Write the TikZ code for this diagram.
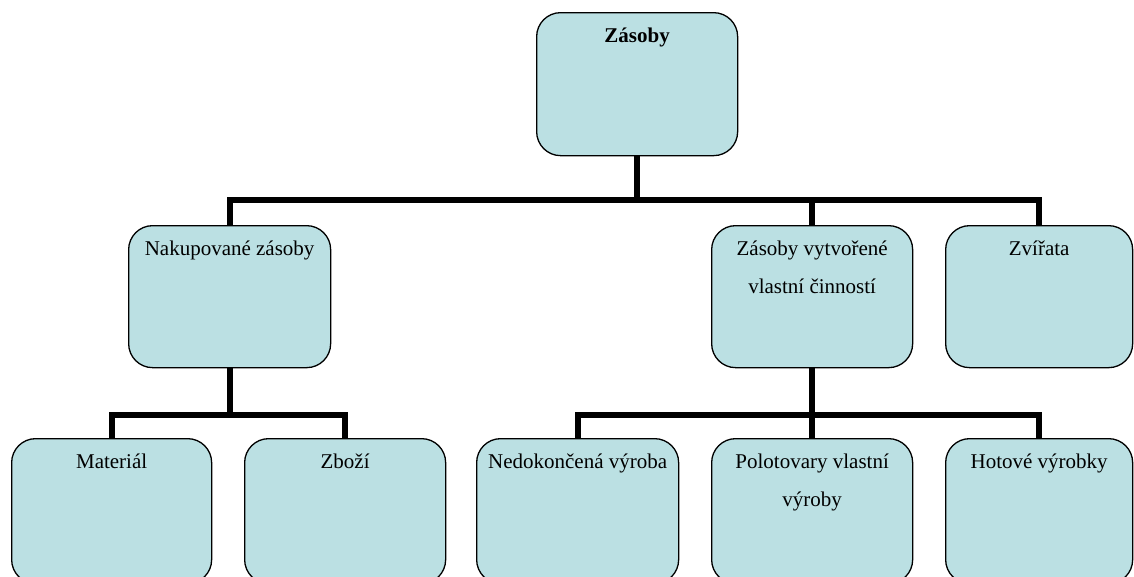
\documentclass[tikz,border=0pt]{standalone}
\usepackage{fontspec}
\setmainfont{Liberation Serif}
\usetikzlibrary{positioning}
\definecolor{boxfill}{HTML}{BBE0E3}
% box text sits at the top of the box
\newcommand{\boxtext}[3]{\parbox[t][#2][t]{#1}{\centering\rule{0pt}{30pt}#3}}

\begin{document}
\begin{tikzpicture}[x=1pt, y=-1pt,
		orgbox/.style={draw, fill=boxfill, line width=1.3pt, rounded corners=24pt, inner sep=0pt, anchor=north west, font=\fontsize{21}{38}\selectfont},
		bus/.style={line width=6pt, line join=miter, black}]
		\useasboundingbox (0,0) rectangle (1134,576);
		\clip (0,0) rectangle (1134,576);
		% boxes
		\node[orgbox] (zasoby) at (536,12) {\boxtext{201pt}{143pt}{\textbf{Zásoby}}};
		\node[orgbox] (nakup) at (128,225) {\boxtext{202pt}{142pt}{Nakupované zásoby}};
		\node[orgbox] (vlastni) at (711,225) {\boxtext{201pt}{142pt}{Zásoby vytvořené\\vlastní činností}};
		\node[orgbox] (zvirata) at (945,225) {\boxtext{187pt}{142pt}{Zvířata}};
		\node[orgbox] (material) at (11,438) {\boxtext{200pt}{145pt}{Materiál}};
		\node[orgbox] (zbozi) at (244,438) {\boxtext{201pt}{145pt}{Zboží}};
		\node[orgbox] (nedok) at (476,438) {\boxtext{202pt}{145pt}{Nedokončená výroba}};
		\node[orgbox] (polot) at (711,438) {\boxtext{201pt}{145pt}{Polotovary vlastní\\výroby}};
		\node[orgbox] (hotove) at (945,438) {\boxtext{187pt}{145pt}{Hotové výrobky}};
		% connectors
		\coordinate (topbus) at (0,200);
		\coordinate (lowbus) at (0,415);
		\draw[bus] (zasoby.south) -- (zasoby.south |- topbus);
		\draw[bus] (nakup.north) |- (zasoby.south |- topbus) -| (zvirata.north);
		\draw[bus] (vlastni.north) -- (vlastni.north |- topbus);
		\draw[bus] (nakup.south) -- (nakup.south |- lowbus);
		\draw[bus] (material.north) |- (nakup.south |- lowbus) -| (zbozi.north);
		\draw[bus] (vlastni.south) -- (vlastni.south |- lowbus);
		\draw[bus] (nedok.north) |- (vlastni.south |- lowbus) -| (hotove.north);
		\draw[bus] (polot.north) -- (polot.north |- lowbus);
\end{tikzpicture}
\end{document}
